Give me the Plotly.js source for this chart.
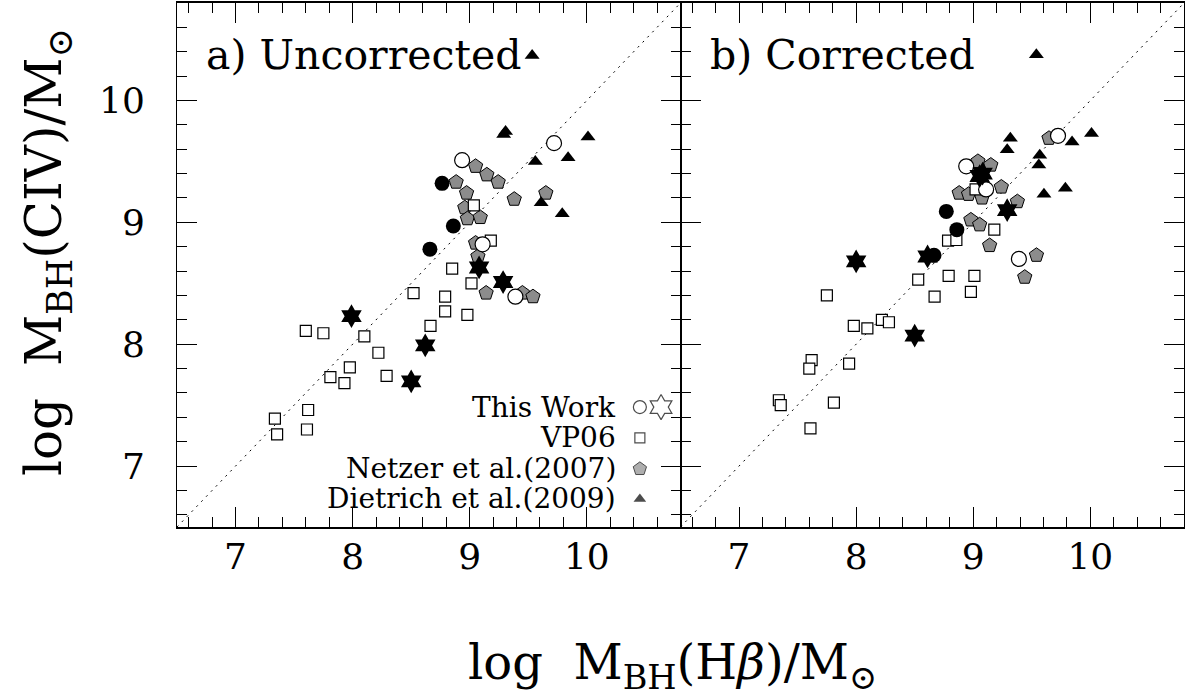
<!DOCTYPE html>
<html>
<head>
<meta charset="utf-8">
<script src="https://cdn.plot.ly/plotly-3.0.1.min.js"></script>
<style>html,body{margin:0;padding:0;background:#fff;}#chart{width:1186px;height:700px;}</style>
</head>
<body>
<div id="chart"></div>
<script>
// ---------- Data: panel a) Uncorrected ----------
const twOpenX_a = [8.935, 9.72, 9.11, 9.39];
const twOpenY_a = [9.51, 9.65, 8.82, 8.39];
const twFilledX_a = [8.764, 8.86, 8.66];
const twFilledY_a = [9.32, 8.97, 8.78];
const twStarX_a = [7.99, 8.50, 8.62, 9.08, 9.285];
const twStarY_a = [8.23, 7.695, 7.99, 8.63, 8.51];
const vp06X_a = [9.035, 9.18, 8.85, 9.015, 8.52, 8.79, 8.79, 8.98, 8.665, 7.60, 7.75, 8.10, 8.22, 7.976, 7.81, 7.93, 8.29, 7.62, 7.61, 7.336, 7.355];
const vp06Y_a = [9.14, 8.85, 8.62, 8.50, 8.42, 8.39, 8.27, 8.24, 8.15, 8.11, 8.09, 8.065, 7.93, 7.81, 7.73, 7.68, 7.74, 7.46, 7.30, 7.39, 7.26];
const netzerX_a = [9.05, 9.146, 9.243, 8.884, 8.973, 9.38, 9.65, 8.958, 8.98, 9.09, 9.05, 9.07, 9.14, 9.45, 9.54];
const netzerY_a = [9.46, 9.39, 9.33, 9.33, 9.24, 9.19, 9.24, 9.12, 9.03, 9.04, 8.83, 8.72, 8.42, 8.42, 8.39];
const dietrichX_a = [9.533, 9.306, 9.29, 10.01, 9.56, 9.84, 9.61, 9.79];
const dietrichY_a = [10.37, 9.745, 9.72, 9.70, 9.50, 9.53, 9.16, 9.07];

// ---------- Data: panel b) Corrected ----------
const twOpenX_b = [8.94, 9.724, 9.11, 9.39];
const twOpenY_b = [9.46, 9.71, 9.27, 8.70];
const twFilledX_b = [8.77, 8.86, 8.665];
const twFilledY_b = [9.09, 8.94, 8.73];
const twStarX_b = [8.00, 8.50, 8.61, 9.08, 9.055, 9.29];
const twStarY_b = [8.68, 8.07, 8.72, 9.40, 9.38, 9.10];
const vp06X_b = [9.02, 9.18, 8.785, 8.856, 8.53, 8.79, 9.01, 8.67, 8.98, 7.75, 7.98, 8.096, 8.22, 8.28, 7.62, 7.60, 7.94, 7.34, 7.356, 7.81, 7.61];
const vp06Y_b = [9.27, 8.94, 8.85, 8.855, 8.53, 8.56, 8.56, 8.39, 8.43, 8.40, 8.15, 8.13, 8.20, 8.18, 7.87, 7.80, 7.84, 7.54, 7.50, 7.52, 7.31];
const netzerX_b = [9.647, 9.04, 9.15, 9.24, 8.88, 8.96, 9.075, 9.377, 8.98, 9.055, 9.14, 9.54, 9.44];
const netzerY_b = [9.69, 9.50, 9.47, 9.29, 9.24, 9.23, 9.20, 9.17, 9.02, 8.98, 8.81, 8.73, 8.55];
const dietrichX_b = [9.539, 9.317, 9.29, 9.568, 9.56, 9.844, 10.01, 9.604, 9.787];
const dietrichY_b = [10.376, 9.69, 9.595, 9.55, 9.47, 9.66, 9.73, 9.23, 9.28];

// ---------- Labels ----------
const tickVals = [7, 8, 9, 10];
const tickText = ['7', '8', '9', '10'];
const panelLabels = ['a) Uncorrected', 'b) Corrected'];
const legendLabels = ['This Work', 'VP06', 'Netzer et al.(2007)', 'Dietrich et al.(2009)'];
const axisRange = [6.5, 10.8];

const FONT = 'DejaVu Serif, Liberation Serif, serif';

function panelTraces(xa, ya, d) {
  const common = {type: 'scatter', mode: 'markers', xaxis: xa, yaxis: ya, hoverinfo: 'x+y', showlegend: false};
  return [
    Object.assign({}, common, {name: legendLabels[2], x: d.netzerX, y: d.netzerY,
      marker: {symbol: 'pentagon', size: 15, color: '#8c8c8c', line: {color: '#000', width: 1}}}),
    Object.assign({}, common, {name: legendLabels[1], x: d.vp06X, y: d.vp06Y,
      marker: {symbol: 'square', size: 11, color: '#fff', line: {color: '#000', width: 1.2}}}),
    Object.assign({}, common, {name: legendLabels[3], x: d.dietrichX, y: d.dietrichY,
      marker: {symbol: 'triangle-up', size: 13, color: '#000', line: {width: 0}}}),
    Object.assign({}, common, {name: legendLabels[0] + ' (open)', x: d.twOpenX, y: d.twOpenY,
      marker: {symbol: 'circle', size: 15, color: '#fff', line: {color: '#000', width: 1.2}}}),
    Object.assign({}, common, {name: legendLabels[0] + ' (filled)', x: d.twFilledX, y: d.twFilledY,
      marker: {symbol: 'circle', size: 15, color: '#000', line: {width: 0}}}),
    Object.assign({}, common, {name: legendLabels[0] + ' (star)', x: d.twStarX, y: d.twStarY,
      marker: {symbol: 'hexagram', size: 18, color: '#000', line: {width: 0}}})
  ];
}

const traces = [].concat(
  panelTraces('x', 'y', {netzerX: netzerX_a, netzerY: netzerY_a, vp06X: vp06X_a, vp06Y: vp06Y_a,
    dietrichX: dietrichX_a, dietrichY: dietrichY_a, twOpenX: twOpenX_a, twOpenY: twOpenY_a,
    twFilledX: twFilledX_a, twFilledY: twFilledY_a, twStarX: twStarX_a, twStarY: twStarY_a}),
  panelTraces('x2', 'y2', {netzerX: netzerX_b, netzerY: netzerY_b, vp06X: vp06X_b, vp06Y: vp06Y_b,
    dietrichX: dietrichX_b, dietrichY: dietrichY_b, twOpenX: twOpenX_b, twOpenY: twOpenY_b,
    twFilledX: twFilledX_b, twFilledY: twFilledY_b, twStarX: twStarX_b, twStarY: twStarY_b})
);

// Legend keys (drawn inside panel a, text on the left, symbol on the right)
const legKeyX = 10.453, legKeyX2 = 10.634;
const legRowY = [7.484, 7.232, 6.977, 6.730];
const legTextX = 10.27;
traces.push({type: 'scatter', mode: 'markers', xaxis: 'x', yaxis: 'y', showlegend: false, hoverinfo: 'skip',
  x: [legKeyX, legKeyX2, legKeyX, legKeyX, legKeyX],
  y: [legRowY[0], legRowY[0], legRowY[1], legRowY[2], legRowY[3]],
  marker: {
    symbol: ['circle', 'hexagram-open', 'square', 'pentagon', 'triangle-up'],
    size: [13, 19, 10, 14, 11],
    color: ['#fff', '#000', '#fff', '#8c8c8c', '#000'],
    line: {color: '#000', width: [1.2, 1.2, 1.2, 1, 0]}
  }
});

function xAxis(domain, anchor) {
  return {
    domain: domain, anchor: anchor, range: axisRange, autorange: false,
    tickvals: tickVals, ticktext: tickText, ticks: 'inside', ticklen: 20, tickwidth: 1, tickcolor: '#000',
    minor: {dtick: 0.2, tick0: 0, ticks: 'inside', ticklen: 10, tickwidth: 1, tickcolor: '#000', showgrid: false},
    showline: true, linecolor: '#000', linewidth: 2, mirror: 'ticks',
    showgrid: false, zeroline: false,
    tickfont: {family: FONT, size: 36, color: '#000'}, ticklabelstandoff: -3
  };
}
function yAxis(anchor, showLabels) {
  return {
    domain: [0, 1], anchor: anchor, range: axisRange, autorange: false,
    tickvals: tickVals, ticktext: tickText, showticklabels: showLabels,
    ticks: 'inside', ticklen: 20, tickwidth: 1, tickcolor: '#000',
    minor: {dtick: 0.2, tick0: 0, ticks: 'inside', ticklen: 10, tickwidth: 1, tickcolor: '#000', showgrid: false},
    showline: true, linecolor: '#000', linewidth: 1, mirror: 'ticks',
    showgrid: false, zeroline: false,
    tickfont: {family: FONT, size: 36, color: '#000'}, ticklabelstandoff: 24
  };
}

const annotations = [
  {xref: 'x', yref: 'y', x: 6.73, y: 10.37, xanchor: 'left', yanchor: 'middle', text: panelLabels[0], showarrow: false,
    font: {family: FONT, size: 41, color: '#000'}},
  {xref: 'x2', yref: 'y2', x: 6.735, y: 10.37, xanchor: 'left', yanchor: 'middle', text: panelLabels[1], showarrow: false,
    font: {family: FONT, size: 41, color: '#000'}},
  {xref: 'paper', yref: 'paper', x: 0.492, y: -0.2, xanchor: 'center', yanchor: 'top', showarrow: false,
    text: 'log  M<sub>BH</sub>(H<i>β</i>)/M<sub>⊙</sub>', font: {family: FONT, size: 48, color: '#000'}},
  {xref: 'paper', yref: 'paper', x: -0.128, y: 0.525, xanchor: 'center', yanchor: 'middle', showarrow: false, textangle: -90,
    text: 'log  M<sub>BH</sub>(CIV)/M<sub>⊙</sub>', font: {family: FONT, size: 50, color: '#000'}}
];
legendLabels.forEach((t, i) => annotations.push({xref: 'x', yref: 'y', x: legTextX, y: legRowY[i], xanchor: 'right', yanchor: 'middle',
  text: t, showarrow: false, font: {family: FONT, size: 28, color: '#000'}}));

const shapes = [
  {type: 'line', xref: 'x', yref: 'y', x0: axisRange[0], y0: axisRange[0], x1: axisRange[1], y1: axisRange[1],
    line: {color: '#000', width: 1, dash: '2px,5px'}, layer: 'below'},
  {type: 'line', xref: 'x2', yref: 'y2', x0: axisRange[0], y0: axisRange[0], x1: axisRange[1], y1: axisRange[1],
    line: {color: '#000', width: 1, dash: '2px,5px'}, layer: 'below'}
];

const layout = {
  width: 1186, height: 700,
  margin: {l: 177, r: 2, t: 3, b: 173, pad: 0},
  paper_bgcolor: '#fff', plot_bgcolor: '#fff',
  showlegend: false,
  xaxis: xAxis([0, 0.5], 'y'),
  xaxis2: xAxis([0.5, 1], 'y2'),
  yaxis: yAxis('x', true),
  yaxis2: yAxis('x2', false),
  annotations: annotations,
  shapes: shapes
};

Plotly.newPlot('chart', traces, layout, {staticPlot: true, displayModeBar: false});
</script>
</body>
</html>
